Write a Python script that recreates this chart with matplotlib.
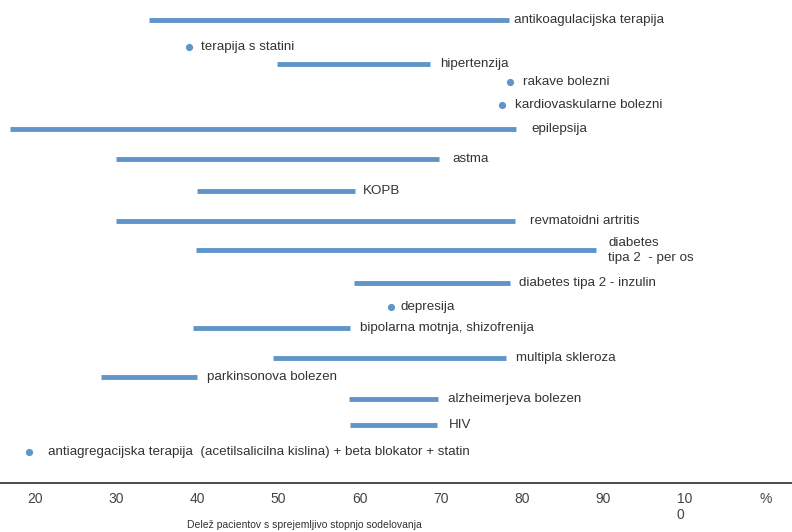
import matplotlib
matplotlib.use("Agg")
import matplotlib.pyplot as plt
from matplotlib.transforms import offset_copy

# ---- data ----
range_labels = ["antikoagulacijska terapija", "hipertenzija", "epilepsija", "astma", "KOPB",
                "revmatoidni artritis", "diabetes\ntipa 2  - per os", "diabetes tipa 2 - inzulin",
                "bipolarna motnja, shizofrenija", "multipla skleroza", "parkinsonova bolezen",
                "alzheimerjeva bolezen", "HIV"]
range_low = [34.0, 49.8, 16.9, 30.0, 40.0, 30.0, 39.8, 59.3, 39.5, 49.3, 28.1, 58.7, 58.8]
range_high = [78.4, 68.6, 79.2, 69.8, 59.4, 79.1, 89.1, 78.5, 58.8, 78.0, 39.9, 69.6, 69.5]

point_labels = ["terapija s statini", "rakave bolezni", "kardiovaskularne bolezni", "depresija",
                "antiagregacijska terapija  (acetilsalicilna kislina) + beta blokator + statin"]
point_values = [39.0, 78.5, 77.5, 63.8, 19.3]

tick_values = [20, 30, 40, 50, 60, 70, 80, 90, 100, 110]
tick_labels = ["20", "30", "40", "50", "60", "70", "80", "90", "10\n0", "%"]
x_title = "Delež pacientov s sprejemljivo stopnjo sodelovanja"

# ---- layout (row positions in pixels from top, label gaps in pixels) ----
range_rows = [20.3, 64.3, 129, 159, 191, 221, 250.3, 283.3, 328.3, 358.3, 377, 399.3, 424.7]
range_gap = [5, 10, 16, 13, 8, 15, 12, 9, 10, 10, 10, 10.5, 11.5]
point_rows = [46.7, 81.7, 105, 307.3, 452]
point_gap = [12, 13, 13, 9.5, 19]

BLUE = "#5f95c8"
TXT = "#333333"
W, H = 792, 532
axis_y = 482.5

fig = plt.figure(figsize=(W / 100, H / 100), dpi=100)
ax = fig.add_axes([0, (H - axis_y) / H, 1, axis_y / H])
# x mapping: pixel = 35 + (v-20)*8.12
x0 = 20 - 35 / 8.12
x1 = 20 + (W - 35) / 8.12
ax.set_xlim(x0, x1)
ax.set_ylim(axis_y, 0)

for sp in ["top", "left", "right"]:
    ax.spines[sp].set_visible(False)
ax.spines["bottom"].set_color("#4a4a4a")
ax.spines["bottom"].set_linewidth(1.4)
ax.set_yticks([])
ax.set_xticks(tick_values)
ax.set_xticklabels(tick_labels, family="Liberation Sans",
                   fontsize=10, color="#444444", multialignment="left", linespacing=1.2)
ax.tick_params(axis="x", length=0, pad=7)

for lab, lo, hi, y, g in zip(range_labels, range_low, range_high, range_rows, range_gap):
    ax.hlines(y, lo, hi, color=BLUE, lw=3.5, capstyle="butt")
    tr = offset_copy(ax.transData, fig=fig, x=g, y=0, units="dots")
    ax.text(hi, y, lab, transform=tr, ha="left", va="center", fontsize=9.6,
            color=TXT, family="Liberation Sans", linespacing=1.3)

for lab, v, y, g in zip(point_labels, point_values, point_rows, point_gap):
    ax.plot([v], [y], "o", color=BLUE, ms=5.2, mec="none")
    tr = offset_copy(ax.transData, fig=fig, x=g, y=0, units="dots")
    ax.text(v, y, lab, transform=tr, ha="left", va="center", fontsize=9.6,
            color=TXT, family="Liberation Sans")

fig.text(304.5 / W, 1 - 525.5 / H, x_title, ha="center", va="center", fontsize=7.5,
         color=TXT, family="Liberation Sans")

fig.savefig("out.png", dpi=100)
